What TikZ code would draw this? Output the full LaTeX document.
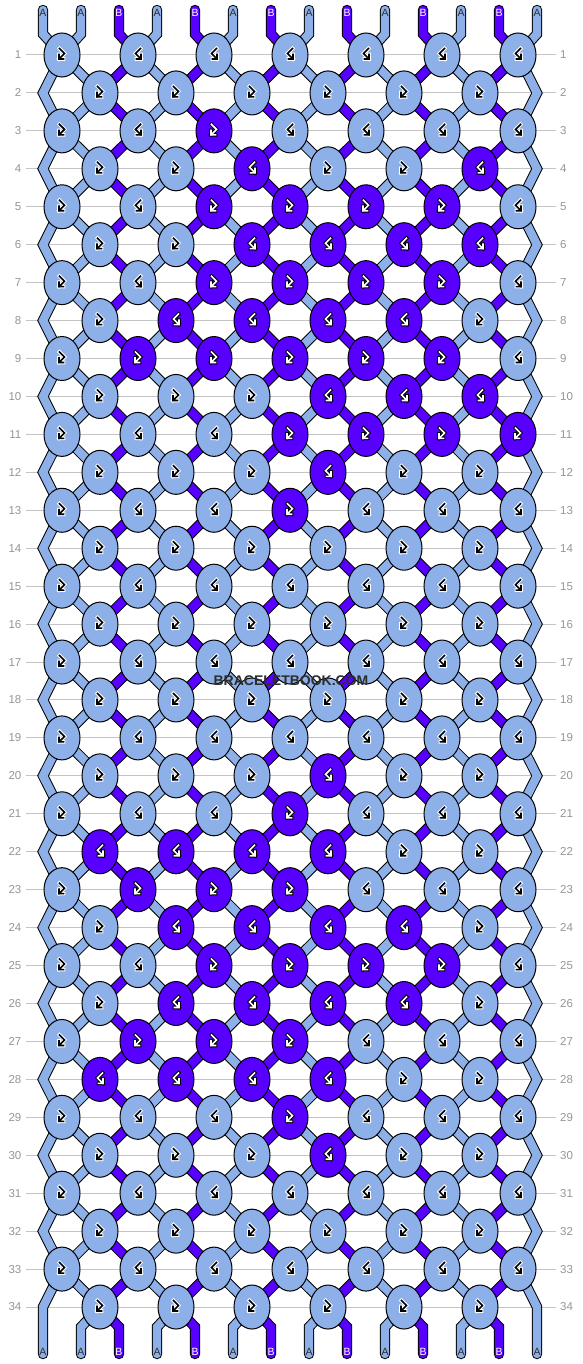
\documentclass[tikz,border=0pt]{standalone}
\usepackage{fontspec}
\setmainfont{Liberation Sans}
\usepackage{xcolor}
\usepackage{tikz}
\usetikzlibrary{shapes.geometric}

\definecolor{colA}{RGB}{142,176,232}
\definecolor{colB}{RGB}{88,0,255}
\definecolor{rulegray}{RGB}{196,196,196}
\definecolor{numgray}{RGB}{150,150,150}
\definecolor{inkgray}{RGB}{45,45,45}

\pgfdeclarelayer{grid}
\pgfdeclarelayer{strings}
\pgfsetlayers{grid,strings,main}

\tikzset{
  knot/.style={ellipse, draw=black, line width=1pt, minimum width=36pt, minimum height=44pt, inner sep=0pt},
  thread/.style={draw=black, line width=1pt, double distance=8.4pt, line cap=round},
  glyphhalo/.style={line width=3.6pt, line cap=rect},
  glyphline/.style={line width=1.6pt, line cap=rect},
  rownum/.style={text=numgray, font=\fontsize{11.5}{12}\selectfont, inner sep=4pt},
  rowline/.style={draw=rulegray, line width=1pt},
  endlbl/.style={font=\fontsize{10.5}{11}\selectfont, inner sep=0pt},
  watermark/.style={text=inkgray, font=\bfseries\fontsize{14}{14}\selectfont}
}

% knots in colour B (row/knot)
\foreach \r/\c in {3/3, 4/3,4/6, 5/3,5/4,5/5,5/6, 6/3,6/4,6/5,6/6, 7/3,7/4,7/5,7/6,
  8/2,8/3,8/4,8/5, 9/2,9/3,9/4,9/5,9/6, 10/4,10/5,10/6, 11/4,11/5,11/6,11/7,
  12/4, 13/4, 20/4, 21/4, 22/1,22/2,22/3,22/4, 23/2,23/3,23/4,
  24/2,24/3,24/4,24/5, 25/3,25/4,25/5,25/6, 26/2,26/3,26/4,26/5,
  27/2,27/3,27/4, 28/1,28/2,28/3,28/4, 29/4, 30/4}
  {\expandafter\gdef\csname pk-\r-\c\endcsname{}}

\begin{document}
\begin{tikzpicture}[x=1pt, y=-1pt]

% Page
\useasboundingbox (0,0) rectangle (582,1364);
\begin{pgfonlayer}{grid}
\fill[white] (0,0) rectangle (582,1364);
\end{pgfonlayer}

% Rows of knots
\foreach \r in {1,...,34} {
  \pgfmathtruncatemacro\odd{mod(\r,2)}
  \pgfmathsetmacro\ry{55+37.94*(\r-1)}
  \ifnum\odd=1 \def\nk{7}\def\xo{62}\else\def\nk{6}\def\xo{100}\fi
  \node[rownum, anchor=east] (nl-\r) at (25.5,\ry) {\r};
  \node[rownum, anchor=west] (nr-\r) at (556,\ry) {\r};
  \begin{pgfonlayer}{grid}
    \draw[rowline] (nl-\r) -- (nr-\r);
  \end{pgfonlayer}
  \ifnum\odd=0
    \coordinate (s-1-\r) at (43,\ry);
    \coordinate (s-14-\r) at (537,\ry);
  \fi
  \foreach \c in {1,...,\nk} {
    \ifcsname pk-\r-\c\endcsname \def\kc{colB}\def\isB{1}\else \def\kc{colA}\def\isB{0}\fi
    \ifnum\isB=1 \def\gf{white}\def\gh{black}\else\def\gf{black}\def\gh{white}\fi
    \pgfmathsetmacro\gs{\odd==1 ? ((\c==1 || \isB==1) ? 1 : -1) : (\isB==1 ? -1 : 1)}
    \node[knot, fill=\kc] (k-\r-\c) at ({\xo+76*(\c-1)},\ry) {};
    \pgfmathtruncatemacro\pa{2*\c-\odd}
    \pgfmathtruncatemacro\pb{\pa+1}
    \coordinate (s-\pa-\r) at (k-\r-\c.center);
    \coordinate (s-\pb-\r) at (k-\r-\c.center);
    \draw[shift={(k-\r-\c.center)}, xscale=\gs, glyphhalo, draw=\gh]
      (-2.5,-6.5) -- (2.5,-1.5) -- (-3,4) (-3,-0.5) -- (-3,4) -- (1.5,4);
    \draw[shift={(k-\r-\c.center)}, xscale=\gs, glyphline, draw=\gf]
      (-2.5,-6.5) -- (2.5,-1.5) -- (-3,4) (-3,-0.5) -- (-3,4) -- (1.5,4);
  }
}

% Strings
\foreach \p in {1,...,14} {
  \pgfmathsetmacro\xp{43+38*(\p-1)}
  \ifnum\p=1 \def\sc{colA}\def\sl{A}\def\st{inkgray}\else
    \ifodd\p \def\sc{colB}\def\sl{B}\def\st{white}\else\def\sc{colA}\def\sl{A}\def\st{inkgray}\fi
  \fi
  \coordinate (t-\p) at (\xp,10);
  \coordinate (tb-\p) at (\xp,34);
  \coordinate (bb-\p) at (\xp,1327);
  \coordinate (b-\p) at (\xp,1354);
  \begin{pgfonlayer}{strings}
    \draw[thread, double=\sc] (t-\p) -- (tb-\p)
      \foreach \r in {1,...,34} { -- (s-\p-\r) } -- (bb-\p) -- (b-\p);
  \end{pgfonlayer}
  \node[endlbl, text=\st] (lt-\p) at (\xp,13) {\sl};
  \node[endlbl, text=\st] (lb-\p) at (\xp,1352) {\sl};
}

% Watermark
\node[watermark] (wm) at (291,681) {BRACELETBOOK.COM};

\end{tikzpicture}
\end{document}
